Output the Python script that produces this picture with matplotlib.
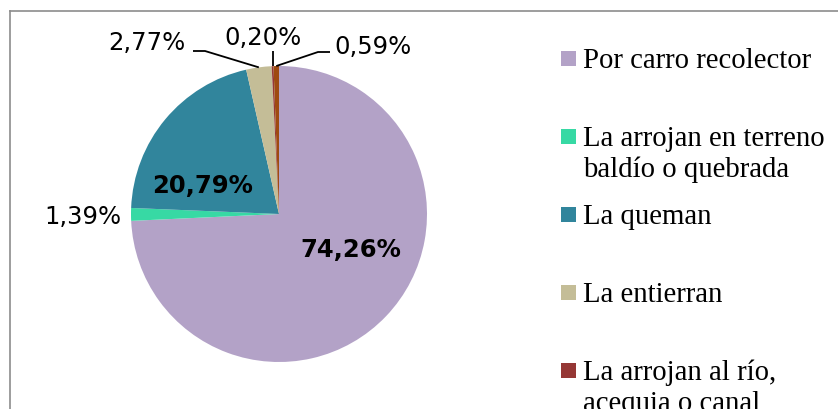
import numpy as np
import matplotlib
matplotlib.use("Agg")
import matplotlib.pyplot as plt
from matplotlib.lines import Line2D
from matplotlib.patches import Rectangle

# data
categories = ["Por carro recolector",
              "La arrojan en terreno\nbaldío o quebrada",
              "La queman",
              "La entierran",
              "La arrojan al río,\nacequia o canal",
              "Otro"]
shares = [74.26, 1.39, 20.79, 2.77, 0.20, 0.59]
colors = ["#B3A2C7", "#37D9A4", "#31859C", "#C4BD97", "#953735", "#9E4A10"]
pct_labels = ["74,26%", "1,39%", "20,79%", "2,77%", "0,20%", "0,59%"]

W, H = 838, 410
fig = plt.figure(figsize=(W / 100, H / 100), dpi=100)
fig.patch.set_facecolor("white")

# chart frame (only top and left edges visible)
fig.add_artist(Line2D([10 / W, 10 / W], [0, 1 - 12 / H], transform=fig.transFigure,
                      color="#8C8C8C", lw=1.2))
fig.add_artist(Line2D([10 / W, 1], [1 - 12 / H, 1 - 12 / H], transform=fig.transFigure,
                      color="#8C8C8C", lw=1.2))

# pie: centre (279,215) px, radius 148 px
cx, cy, r = 279, 215, 148
ax = fig.add_axes([(cx - r) / W, (H - cy - r) / H, 2 * r / W, 2 * r / H])
wedges, _ = ax.pie(shares, colors=colors, startangle=90, counterclock=False,
                   wedgeprops=dict(linewidth=0))
ax.set_xlim(-1, 1)
ax.set_ylim(-1, 1)
ax.set_axis_off()


def px(x, y):
    # pixel position -> pie data coords
    return (x - cx) / r, (cy - y) / r


def edge(w):
    a = np.deg2rad((w.theta1 + w.theta2) / 2)
    return np.cos(a), np.sin(a)


lab_font = dict(family="DejaVu Sans", fontsize=17.5, color="black")
label_pos = [(351, 250), (83, 217), (203, 186), (147, 43), (263, 38), (373, 47)]
for i, (w, t, p) in enumerate(zip(wedges, pct_labels, label_pos)):
    bold = "bold" if shares[i] > 10 else "normal"
    ax.text(*px(*p), t, ha="center", va="center", fontweight=bold, **lab_font,
            clip_on=False)

# leader lines for the small slices at the top
elbows = {3: [(205, 52), (193, 52)], 4: [(272, 52)], 5: [(318, 53), (330, 53)]}
for i, pts in elbows.items():
    ex, ey = edge(wedges[i])
    xs = [ex] + [px(*p)[0] for p in pts]
    ys = [ey] + [px(*p)[1] for p in pts]
    if i == 4:
        xs[1] = ex
    ax.plot(xs, ys, color="black", lw=1.3, clip_on=False, solid_capstyle="butt")

# legend, drawn by hand (Excel style, first lines evenly spaced)
leg_font = dict(family="Liberation Serif", fontsize=20.7, color="black")
for i, (lab, col) in enumerate(zip(categories, colors)):
    base = 68 + 78 * i
    fig.add_artist(Rectangle((561 / W, 1 - (base - 1) / H), 15 / W, 15 / H,
                             transform=fig.transFigure, facecolor=col,
                             edgecolor="none"))
    for k, line in enumerate(lab.split("\n")):
        fig.text(583 / W, 1 - (base + 31 * k) / H, line, ha="left",
                 va="baseline", **leg_font)

fig.savefig("out.png", dpi=100, facecolor="white")
